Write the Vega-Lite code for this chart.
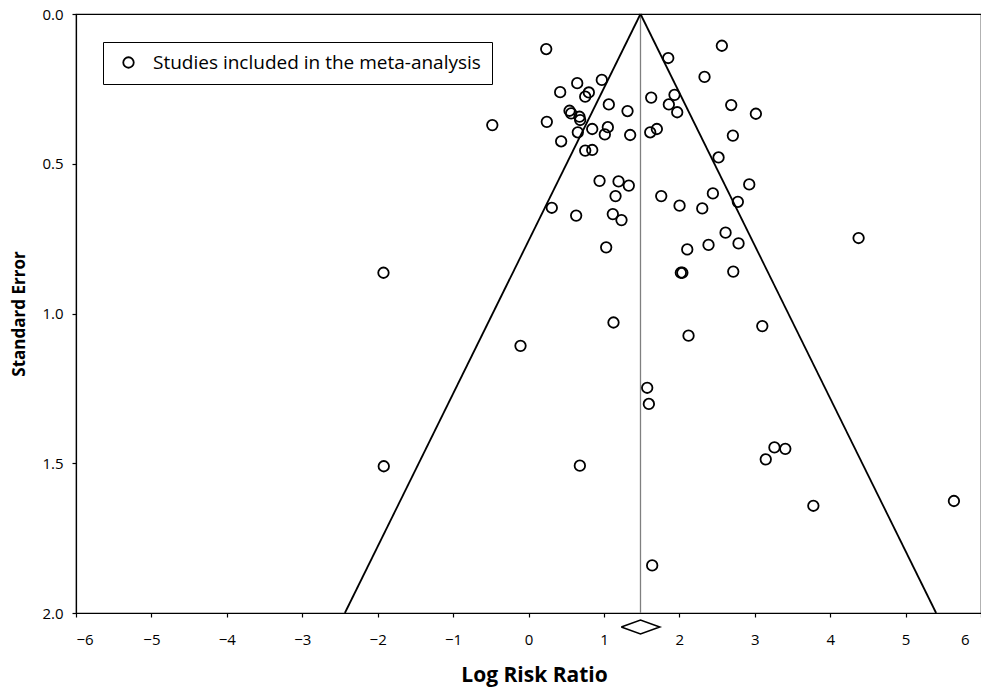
{
  "$schema": "https://vega.github.io/schema/vega-lite/v6.json",
  "width": 905,
  "height": 599,
  "autosize": "none",
  "padding": {"left": 76, "top": 14, "right": 0, "bottom": 79},
  "background": "white",
  "config": {
    "font": "Open Sans",
    "view": {"stroke": "black", "strokeWidth": 1.2},
    "axis": {
      "domainColor": "black",
      "domainWidth": 1.2,
      "tickColor": "black",
      "tickWidth": 1.2,
      "labelColor": "black",
      "titleColor": "black",
      "grid": false,
      "labelFont": "Open Sans",
      "labelFontSize": 15,
      "titleFont": "Open Sans",
      "titleFontSize": 21,
      "titleFontWeight": "bold"
    }
  },
  "datasets": {
    "studies": [
      {"lrr": 0.235, "se": 0.117, "series": "Studies included in the meta-analysis"},
      {"lrr": -0.48, "se": 0.371, "series": "Studies included in the meta-analysis"},
      {"lrr": 0.646, "se": 0.231, "series": "Studies included in the meta-analysis"},
      {"lrr": 0.972, "se": 0.22, "series": "Studies included in the meta-analysis"},
      {"lrr": 0.42, "se": 0.261, "series": "Studies included in the meta-analysis"},
      {"lrr": 0.8, "se": 0.262, "series": "Studies included in the meta-analysis"},
      {"lrr": 0.752, "se": 0.276, "series": "Studies included in the meta-analysis"},
      {"lrr": 1.065, "se": 0.302, "series": "Studies included in the meta-analysis"},
      {"lrr": 1.313, "se": 0.324, "series": "Studies included in the meta-analysis"},
      {"lrr": 0.544, "se": 0.323, "series": "Studies included in the meta-analysis"},
      {"lrr": 0.566, "se": 0.332, "series": "Studies included in the meta-analysis"},
      {"lrr": 0.676, "se": 0.343, "series": "Studies included in the meta-analysis"},
      {"lrr": 0.685, "se": 0.354, "series": "Studies included in the meta-analysis"},
      {"lrr": 0.243, "se": 0.36, "series": "Studies included in the meta-analysis"},
      {"lrr": 0.654, "se": 0.395, "series": "Studies included in the meta-analysis"},
      {"lrr": 0.845, "se": 0.384, "series": "Studies included in the meta-analysis"},
      {"lrr": 1.052, "se": 0.378, "series": "Studies included in the meta-analysis"},
      {"lrr": 1.012, "se": 0.402, "series": "Studies included in the meta-analysis"},
      {"lrr": 1.348, "se": 0.404, "series": "Studies included in the meta-analysis"},
      {"lrr": 0.433, "se": 0.425, "series": "Studies included in the meta-analysis"},
      {"lrr": 0.752, "se": 0.456, "series": "Studies included in the meta-analysis"},
      {"lrr": 0.845, "se": 0.454, "series": "Studies included in the meta-analysis"},
      {"lrr": 0.309, "se": 0.647, "series": "Studies included in the meta-analysis"},
      {"lrr": 0.632, "se": 0.673, "series": "Studies included in the meta-analysis"},
      {"lrr": 0.942, "se": 0.557, "series": "Studies included in the meta-analysis"},
      {"lrr": 1.194, "se": 0.559, "series": "Studies included in the meta-analysis"},
      {"lrr": 1.33, "se": 0.573, "series": "Studies included in the meta-analysis"},
      {"lrr": 1.154, "se": 0.608, "series": "Studies included in the meta-analysis"},
      {"lrr": 1.118, "se": 0.668, "series": "Studies included in the meta-analysis"},
      {"lrr": 1.233, "se": 0.688, "series": "Studies included in the meta-analysis"},
      {"lrr": 1.627, "se": 0.279, "series": "Studies included in the meta-analysis"},
      {"lrr": 1.936, "se": 0.27, "series": "Studies included in the meta-analysis"},
      {"lrr": 1.861, "se": 0.302, "series": "Studies included in the meta-analysis"},
      {"lrr": 1.972, "se": 0.328, "series": "Studies included in the meta-analysis"},
      {"lrr": 2.688, "se": 0.304, "series": "Studies included in the meta-analysis"},
      {"lrr": 1.614, "se": 0.395, "series": "Studies included in the meta-analysis"},
      {"lrr": 1.702, "se": 0.384, "series": "Studies included in the meta-analysis"},
      {"lrr": 2.71, "se": 0.406, "series": "Studies included in the meta-analysis"},
      {"lrr": 2.52, "se": 0.479, "series": "Studies included in the meta-analysis"},
      {"lrr": 2.334, "se": 0.21, "series": "Studies included in the meta-analysis"},
      {"lrr": 2.564, "se": 0.106, "series": "Studies included in the meta-analysis"},
      {"lrr": 1.853, "se": 0.147, "series": "Studies included in the meta-analysis"},
      {"lrr": 3.015, "se": 0.333, "series": "Studies included in the meta-analysis"},
      {"lrr": 2.927, "se": 0.569, "series": "Studies included in the meta-analysis"},
      {"lrr": 1.76, "se": 0.608, "series": "Studies included in the meta-analysis"},
      {"lrr": 2.003, "se": 0.64, "series": "Studies included in the meta-analysis"},
      {"lrr": 2.304, "se": 0.649, "series": "Studies included in the meta-analysis"},
      {"lrr": 2.445, "se": 0.599, "series": "Studies included in the meta-analysis"},
      {"lrr": 2.776, "se": 0.627, "series": "Studies included in the meta-analysis"},
      {"lrr": 2.613, "se": 0.73, "series": "Studies included in the meta-analysis"},
      {"lrr": 2.785, "se": 0.766, "series": "Studies included in the meta-analysis"},
      {"lrr": 2.387, "se": 0.771, "series": "Studies included in the meta-analysis"},
      {"lrr": 2.105, "se": 0.786, "series": "Studies included in the meta-analysis"},
      {"lrr": 2.02, "se": 0.864, "series": "Studies included in the meta-analysis"},
      {"lrr": 2.04, "se": 0.864, "series": "Studies included in the meta-analysis"},
      {"lrr": 2.715, "se": 0.86, "series": "Studies included in the meta-analysis"},
      {"lrr": 4.377, "se": 0.748, "series": "Studies included in the meta-analysis"},
      {"lrr": 1.03, "se": 0.779, "series": "Studies included in the meta-analysis"},
      {"lrr": -1.923, "se": 0.864, "series": "Studies included in the meta-analysis"},
      {"lrr": 1.127, "se": 1.03, "series": "Studies included in the meta-analysis"},
      {"lrr": 2.122, "se": 1.074, "series": "Studies included in the meta-analysis"},
      {"lrr": -0.106, "se": 1.108, "series": "Studies included in the meta-analysis"},
      {"lrr": 3.1, "se": 1.042, "series": "Studies included in the meta-analysis"},
      {"lrr": 1.574, "se": 1.248, "series": "Studies included in the meta-analysis"},
      {"lrr": 1.596, "se": 1.302, "series": "Studies included in the meta-analysis"},
      {"lrr": -1.919, "se": 1.51, "series": "Studies included in the meta-analysis"},
      {"lrr": 0.681, "se": 1.508, "series": "Studies included in the meta-analysis"},
      {"lrr": 3.261, "se": 1.447, "series": "Studies included in the meta-analysis"},
      {"lrr": 3.405, "se": 1.452, "series": "Studies included in the meta-analysis"},
      {"lrr": 3.146, "se": 1.487, "series": "Studies included in the meta-analysis"},
      {"lrr": 3.777, "se": 1.642, "series": "Studies included in the meta-analysis"},
      {"lrr": 5.641, "se": 1.626, "series": "Studies included in the meta-analysis"},
      {"lrr": 1.64, "se": 1.841, "series": "Studies included in the meta-analysis"}
    ],
    "funnel": [
      {"side": "left", "lrr": 1.485, "se": 0},
      {"side": "left", "lrr": -2.435, "se": 2},
      {"side": "right", "lrr": 1.485, "se": 0},
      {"side": "right", "lrr": 5.405, "se": 2}
    ],
    "mean": [
      {"lrr": 1.485, "se": 0, "se2": 2}
    ],
    "diamond": [
      {"k": 0, "lrr": 1.23, "se": 2.0467},
      {"k": 1, "lrr": 1.485, "se": 2.0234},
      {"k": 2, "lrr": 1.74, "se": 2.0467},
      {"k": 3, "lrr": 1.485, "se": 2.0701},
      {"k": 4, "lrr": 1.23, "se": 2.0467}
    ]
  },
  "encoding": {
    "x": {
      "field": "lrr",
      "type": "quantitative",
      "title": "Log Risk Ratio",
      "scale": {"domain": [-6, 6], "nice": false, "zero": false},
      "axis": {
        "values": [-6, -5, -4, -3, -2, -1, 0, 1, 2, 3, 4, 5, 6],
        "format": "d",
        "tickSize": 4,
        "labelPadding": 15,
        "titlePadding": 17,
        "titleX": 458,
        "labelOffset": {"condition": {"test": "datum.value == 6", "value": -12}, "value": 0}
      }
    },
    "y": {
      "field": "se",
      "type": "quantitative",
      "title": "Standard Error",
      "scale": {"domain": [0, 2], "nice": false, "reverse": true, "zero": false},
      "axis": {
        "values": [0, 0.5, 1, 1.5, 2],
        "format": ".1f",
        "tickSize": 4,
        "labelPadding": 9,
        "titleFontSize": 17,
        "titlePadding": 13
      }
    }
  },
  "layer": [
    {
      "data": {"name": "mean"},
      "mark": {"type": "rule", "color": "#7f7f7f", "strokeWidth": 1.3},
      "encoding": {"y2": {"field": "se2"}}
    },
    {
      "data": {"name": "funnel"},
      "mark": {"type": "line", "color": "black", "strokeWidth": 1.8, "clip": false},
      "encoding": {
        "detail": {"field": "side", "type": "nominal"},
        "order": {"field": "se", "type": "quantitative"}
      }
    },
    {
      "data": {"name": "diamond"},
      "mark": {"type": "line", "color": "black", "strokeWidth": 1.6, "clip": false},
      "encoding": {
        "order": {"field": "k", "type": "quantitative"}
      }
    },
    {
      "data": {"name": "studies"},
      "mark": {"type": "point", "shape": "circle", "filled": false, "size": 110, "strokeWidth": 1.8, "opacity": 1},
      "encoding": {
        "color": {
          "field": "series",
          "type": "nominal",
          "scale": {"range": ["black"]},
          "legend": {
            "title": null,
            "orient": "none",
            "legendX": 27,
            "legendY": 28,
            "strokeColor": "black",
            "padding": 11,
            "symbolType": "circle",
            "symbolSize": 110,
            "symbolStrokeWidth": 1.8,
            "symbolOffset": 5,
            "labelFont": "Open Sans",
            "labelFontSize": 19,
            "labelOffset": 15,
            "labelColor": "black",
            "labelLimit": 500
          }
        }
      }
    }
  ]
}
